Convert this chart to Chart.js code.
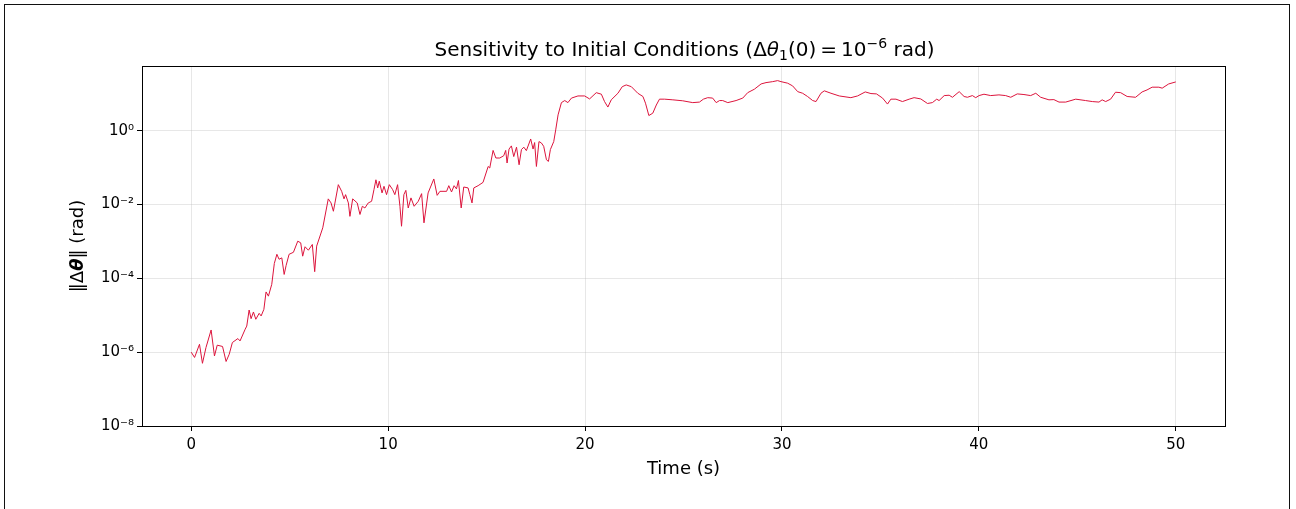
<!DOCTYPE html>
<html>
<head>
<meta charset="utf-8">
<script src="https://cdn.jsdelivr.net/npm/chart.js@4.4.0/dist/chart.umd.min.js"></script>
<style>
  html, body { margin: 0; padding: 0; background: #fff; }
  #wrap { position: relative; width: 1296px; height: 509px; }
</style>
</head>
<body>
<div id="wrap"><canvas id="grafico" width="1296" height="509"></canvas></div>
<script>
// Tempo (s) e norma da diferença angular (rad)
const tempo = [
  0, 0.17, 0.42, 0.57, 0.75, 1.01, 1.18, 1.32, 1.59, 1.77,
  1.93, 2.09, 2.37, 2.48, 2.74, 2.82, 2.94, 3.04, 3.16, 3.28,
  3.45, 3.55, 3.69, 3.80, 3.92, 4.09, 4.22, 4.35, 4.46, 4.60,
  4.72, 4.82, 4.97, 5.19, 5.41, 5.56, 5.66, 5.78, 5.95, 6.15,
  6.27, 6.37, 6.68, 6.96, 7.10, 7.22, 7.47, 7.64, 7.76, 7.84,
  7.98, 8.06, 8.20, 8.43, 8.57, 8.69, 8.82, 8.99, 9.16, 9.28,
  9.38, 9.47, 9.55, 9.69, 9.79, 9.92, 10.06, 10.23, 10.34, 10.48,
  10.60, 10.68, 10.80, 10.90, 11.02, 11.16, 11.32, 11.53, 11.70, 11.82,
  12.03, 12.32, 12.49, 12.63, 12.97, 13.08, 13.22, 13.35, 13.47, 13.57,
  13.71, 13.84, 14.06, 14.15, 14.26, 14.35, 14.57, 14.82, 15.08, 15.16,
  15.33, 15.47, 15.67, 15.87, 15.97, 16.04, 16.14, 16.26, 16.38, 16.52,
  16.65, 16.77, 16.89, 17.02, 17.24, 17.36, 17.44, 17.53, 17.66, 17.78,
  17.90, 18.04, 18.14, 18.24, 18.41, 18.51, 18.63, 18.80, 18.97, 19.13,
  19.31, 19.64, 19.98, 20.23, 20.57, 20.83, 20.99, 21.16, 21.33, 21.67,
  21.89, 22.09, 22.35, 22.68, 22.94, 23.07, 23.24, 23.44, 23.62, 23.78,
  24.04, 24.46, 24.96, 25.47, 25.81, 26.01, 26.23, 26.48, 26.66, 26.83,
  26.99, 27.25, 27.67, 28.01, 28.26, 28.60, 28.94, 29.19, 29.53, 29.78,
  29.95, 30.29, 30.54, 30.80, 31.05, 31.30, 31.56, 31.73, 31.98, 32.15,
  32.49, 32.91, 33.50, 33.84, 34.23, 34.52, 34.80, 35.11, 35.36, 35.53,
  35.79, 36.12, 36.46, 36.71, 37.05, 37.39, 37.64, 37.86, 37.98, 38.24,
  38.49, 38.66, 39.00, 39.25, 39.42, 39.67, 39.84, 40.01, 40.26, 40.60,
  41.02, 41.36, 41.62, 41.95, 42.29, 42.63, 42.89, 43.14, 43.56, 43.81,
  44.07, 44.41, 44.92, 45.42, 45.76, 46.10, 46.26, 46.44, 46.69, 46.94,
  47.20, 47.53, 47.96, 48.29, 48.54, 48.80, 49.14, 49.31, 49.64, 50.00
];

const deltaTheta = [
  1.0e-6, 7.2e-7, 1.64e-6, 5.0e-7, 1.34e-6, 4.0e-6, 7.9e-7, 1.55e-6, 1.43e-6, 5.6e-7,
  8.8e-7, 1.83e-6, 2.34e-6, 2.02e-6, 4.2e-6, 5.1e-6, 1.39e-5, 8.1e-6, 1.23e-5, 7.8e-6,
  1.13e-5, 9.6e-6, 1.45e-5, 4.3e-5, 3.3e-5, 6.9e-5, 2.54e-4, 4.5e-4, 3.3e-4, 3.6e-4,
  1.28e-4, 2.25e-4, 4.5e-4, 5.1e-4, 1.02e-3, 9.2e-4, 4.0e-4, 7.2e-4, 5.8e-4, 8.3e-4,
  1.52e-4, 7.5e-4, 2.35e-3, 1.43e-2, 1.11e-2, 6.6e-3, 3.47e-2, 2.29e-2, 1.43e-2, 1.86e-2,
  1.11e-2, 4.8e-3, 1.43e-2, 1.11e-2, 5.4e-3, 9.0e-3, 8.1e-3, 1.11e-2, 1.23e-2, 2.54e-2,
  4.7e-2, 2.83e-2, 4.3e-2, 2.07e-2, 3.13e-2, 1.86e-2, 3.47e-2, 2.54e-2, 1.86e-2, 3.47e-2,
  9.0e-3, 2.59e-3, 1.86e-2, 2.43e-2, 8.1e-3, 1.52e-2, 9.0e-3, 1.23e-2, 1.98e-2, 3.2e-3,
  2.07e-2, 4.95e-2, 1.78e-2, 2.29e-2, 2.29e-2, 3.26e-2, 2.2e-2, 3.26e-2, 2.66e-2, 4.5e-2,
  8.1e-3, 3.0e-2, 2.83e-2, 1.86e-2, 1.11e-2, 2.83e-2, 3.26e-2, 4.0e-2, 0.108, 0.098,
  0.294, 0.183, 0.183, 0.211, 0.294, 0.134, 0.32, 0.39, 0.20, 0.36,
  0.12, 0.31, 0.36, 0.29, 0.60, 0.32, 0.48, 0.108, 0.51, 0.47,
  0.38, 0.164, 0.148, 0.31, 0.51, 1.06, 2.7, 5.8, 6.6, 5.8,
  7.7, 8.8, 8.8, 7.3, 10.8, 9.8, 6.2, 4.4, 6.9, 10.4,
  15.7, 17.5, 15.7, 10.4, 8.5, 5.6, 2.59, 3.0, 5.0, 7.2,
  7.2, 6.9, 6.5, 5.8, 6.0, 7.2, 7.9, 7.7, 5.8, 6.6,
  6.6, 5.8, 6.6, 7.7, 10.8, 13.4, 18.6, 20.2, 21.5, 22.9,
  21.5, 19.5, 16.5, 11.5, 10.4, 8.5, 6.6, 6.2, 10.4, 12.1,
  10.4, 8.8, 7.9, 8.8, 11.3, 10.2, 10.0, 7.7, 5.3, 7.2,
  7.2, 6.2, 7.2, 7.9, 7.3, 5.5, 5.8, 7.2, 6.6, 9.0,
  9.2, 8.1, 11.5, 8.5, 8.1, 9.0, 7.9, 9.0, 9.8, 9.0,
  9.4, 9.0, 8.1, 10.0, 9.6, 9.0, 10.4, 8.1, 6.9, 7.0,
  6.0, 6.0, 7.2, 6.6, 6.2, 6.0, 6.9, 6.2, 7.2, 11.1,
  10.8, 8.5, 8.1, 11.3, 12.8, 15.2, 15.2, 14.3, 18.6, 21.1
];

const ticksX = [0, 10, 20, 30, 40, 50];
const ticksY = [1e-8, 1e-6, 1e-4, 1e-2, 1e0];
const rotulosY = ['10⁻⁸', '10⁻⁶', '10⁻⁴', '10⁻²', '10⁰'];

const FONTE = "'DejaVu Sans', 'Liberation Sans', sans-serif";
const corGrade = 'rgba(176,176,176,0.3)';

// Desenha texto com partes de fontes e deslocamentos diferentes (tipo mathtext)
function textoRico(ctx, partes, x, y) {
  let largura = 0;
  partes.forEach(p => { ctx.font = p.fonte; largura += ctx.measureText(p.texto).width; });
  let cx = x - largura / 2;
  ctx.textAlign = 'left';
  ctx.textBaseline = 'alphabetic';
  partes.forEach(p => {
    ctx.font = p.fonte;
    ctx.fillText(p.texto, cx, y + (p.dy || 0));
    cx += ctx.measureText(p.texto).width;
  });
}

const normal = '20px ' + FONTE;
const italico = 'italic 20px ' + FONTE;
const pequeno = '14px ' + FONTE;
const rotulo = '18px ' + FONTE;

// Plugin para moldura, título e rótulos dos eixos
const decoracao = {
  id: 'decoracao',
  afterDraw(chart) {
    const ctx = chart.ctx;
    const area = chart.chartArea;
    ctx.save();

    // moldura da figura
    ctx.strokeStyle = '#111';
    ctx.lineWidth = 1;
    ctx.strokeRect(4.5, 4.5, 1285, 600);

    // bordas do gráfico
    ctx.strokeStyle = '#000';
    ctx.lineWidth = 1;
    ctx.strokeRect(area.left + 0.5, area.top + 0.5, area.right - area.left, area.bottom - area.top);

    ctx.fillStyle = '#000';
    const centroX = (area.left + area.right) / 2;

    // título
    textoRico(ctx, [
      { texto: 'Sensitivity to Initial Conditions (', fonte: normal },
      { texto: 'Δ', fonte: normal },
      { texto: 'θ', fonte: italico },
      { texto: '1', fonte: pequeno, dy: 4 },
      { texto: '(0)\u2009=\u200910', fonte: normal },
      { texto: '−6', fonte: pequeno, dy: -8 },
      { texto: ' rad)', fonte: normal }
    ], centroX + 1, 56);

    // rótulo do eixo x
    textoRico(ctx, [{ texto: 'Time (s)', fonte: rotulo }], centroX, 474);

    // rótulo do eixo y
    ctx.translate(83, (area.top + area.bottom) / 2);
    ctx.rotate(-Math.PI / 2);
    textoRico(ctx, [
      { texto: '‖Δ', fonte: rotulo },
      { texto: 'θ', fonte: 'italic bold 18px ' + FONTE },
      { texto: '‖ (rad)', fonte: rotulo }
    ], 0, 0);

    ctx.restore();
  }
};

const pontos = tempo.map((t, i) => ({ x: t, y: deltaTheta[i] }));

new Chart(document.getElementById('grafico'), {
  type: 'line',
  data: {
    datasets: [{
      data: pontos,
      borderColor: '#DC143C',
      borderWidth: 1,
      pointRadius: 0,
      tension: 0,
      fill: false
    }]
  },
  options: {
    responsive: false,
    animation: false,
    devicePixelRatio: 1,
    layout: { padding: { top: 66, right: 71, left: 0, bottom: 0 } },
    plugins: {
      legend: { display: false },
      tooltip: { enabled: false },
      title: { display: false }
    },
    scales: {
      x: {
        type: 'linear',
        min: -2.5,
        max: 52.5,
        afterBuildTicks: s => { s.ticks = ticksX.map(v => ({ value: v })); },
        afterFit: s => { s.height = 83; },
        ticks: {
          autoSkip: false,
          maxRotation: 0,
          color: '#000',
          padding: 5,
          font: { family: FONTE, size: 15 }
        },
        grid: { color: corGrade, tickColor: '#000', tickLength: 5, lineWidth: 1 },
        border: { display: true, color: '#000' }
      },
      y: {
        type: 'logarithmic',
        min: 1e-8,
        max: 57,
        afterBuildTicks: s => { s.ticks = ticksY.map(v => ({ value: v })); },
        afterFit: s => { s.width = 142; },
        ticks: {
          autoSkip: false,
          color: '#000',
          padding: 3,
          font: { family: FONTE, size: 15 },
          callback: (v, i) => rotulosY[i]
        },
        grid: { color: corGrade, tickColor: '#000', tickLength: 5, lineWidth: 1 },
        border: { display: true, color: '#000' }
      }
    }
  },
  plugins: [decoracao]
});
</script>
</body>
</html>
